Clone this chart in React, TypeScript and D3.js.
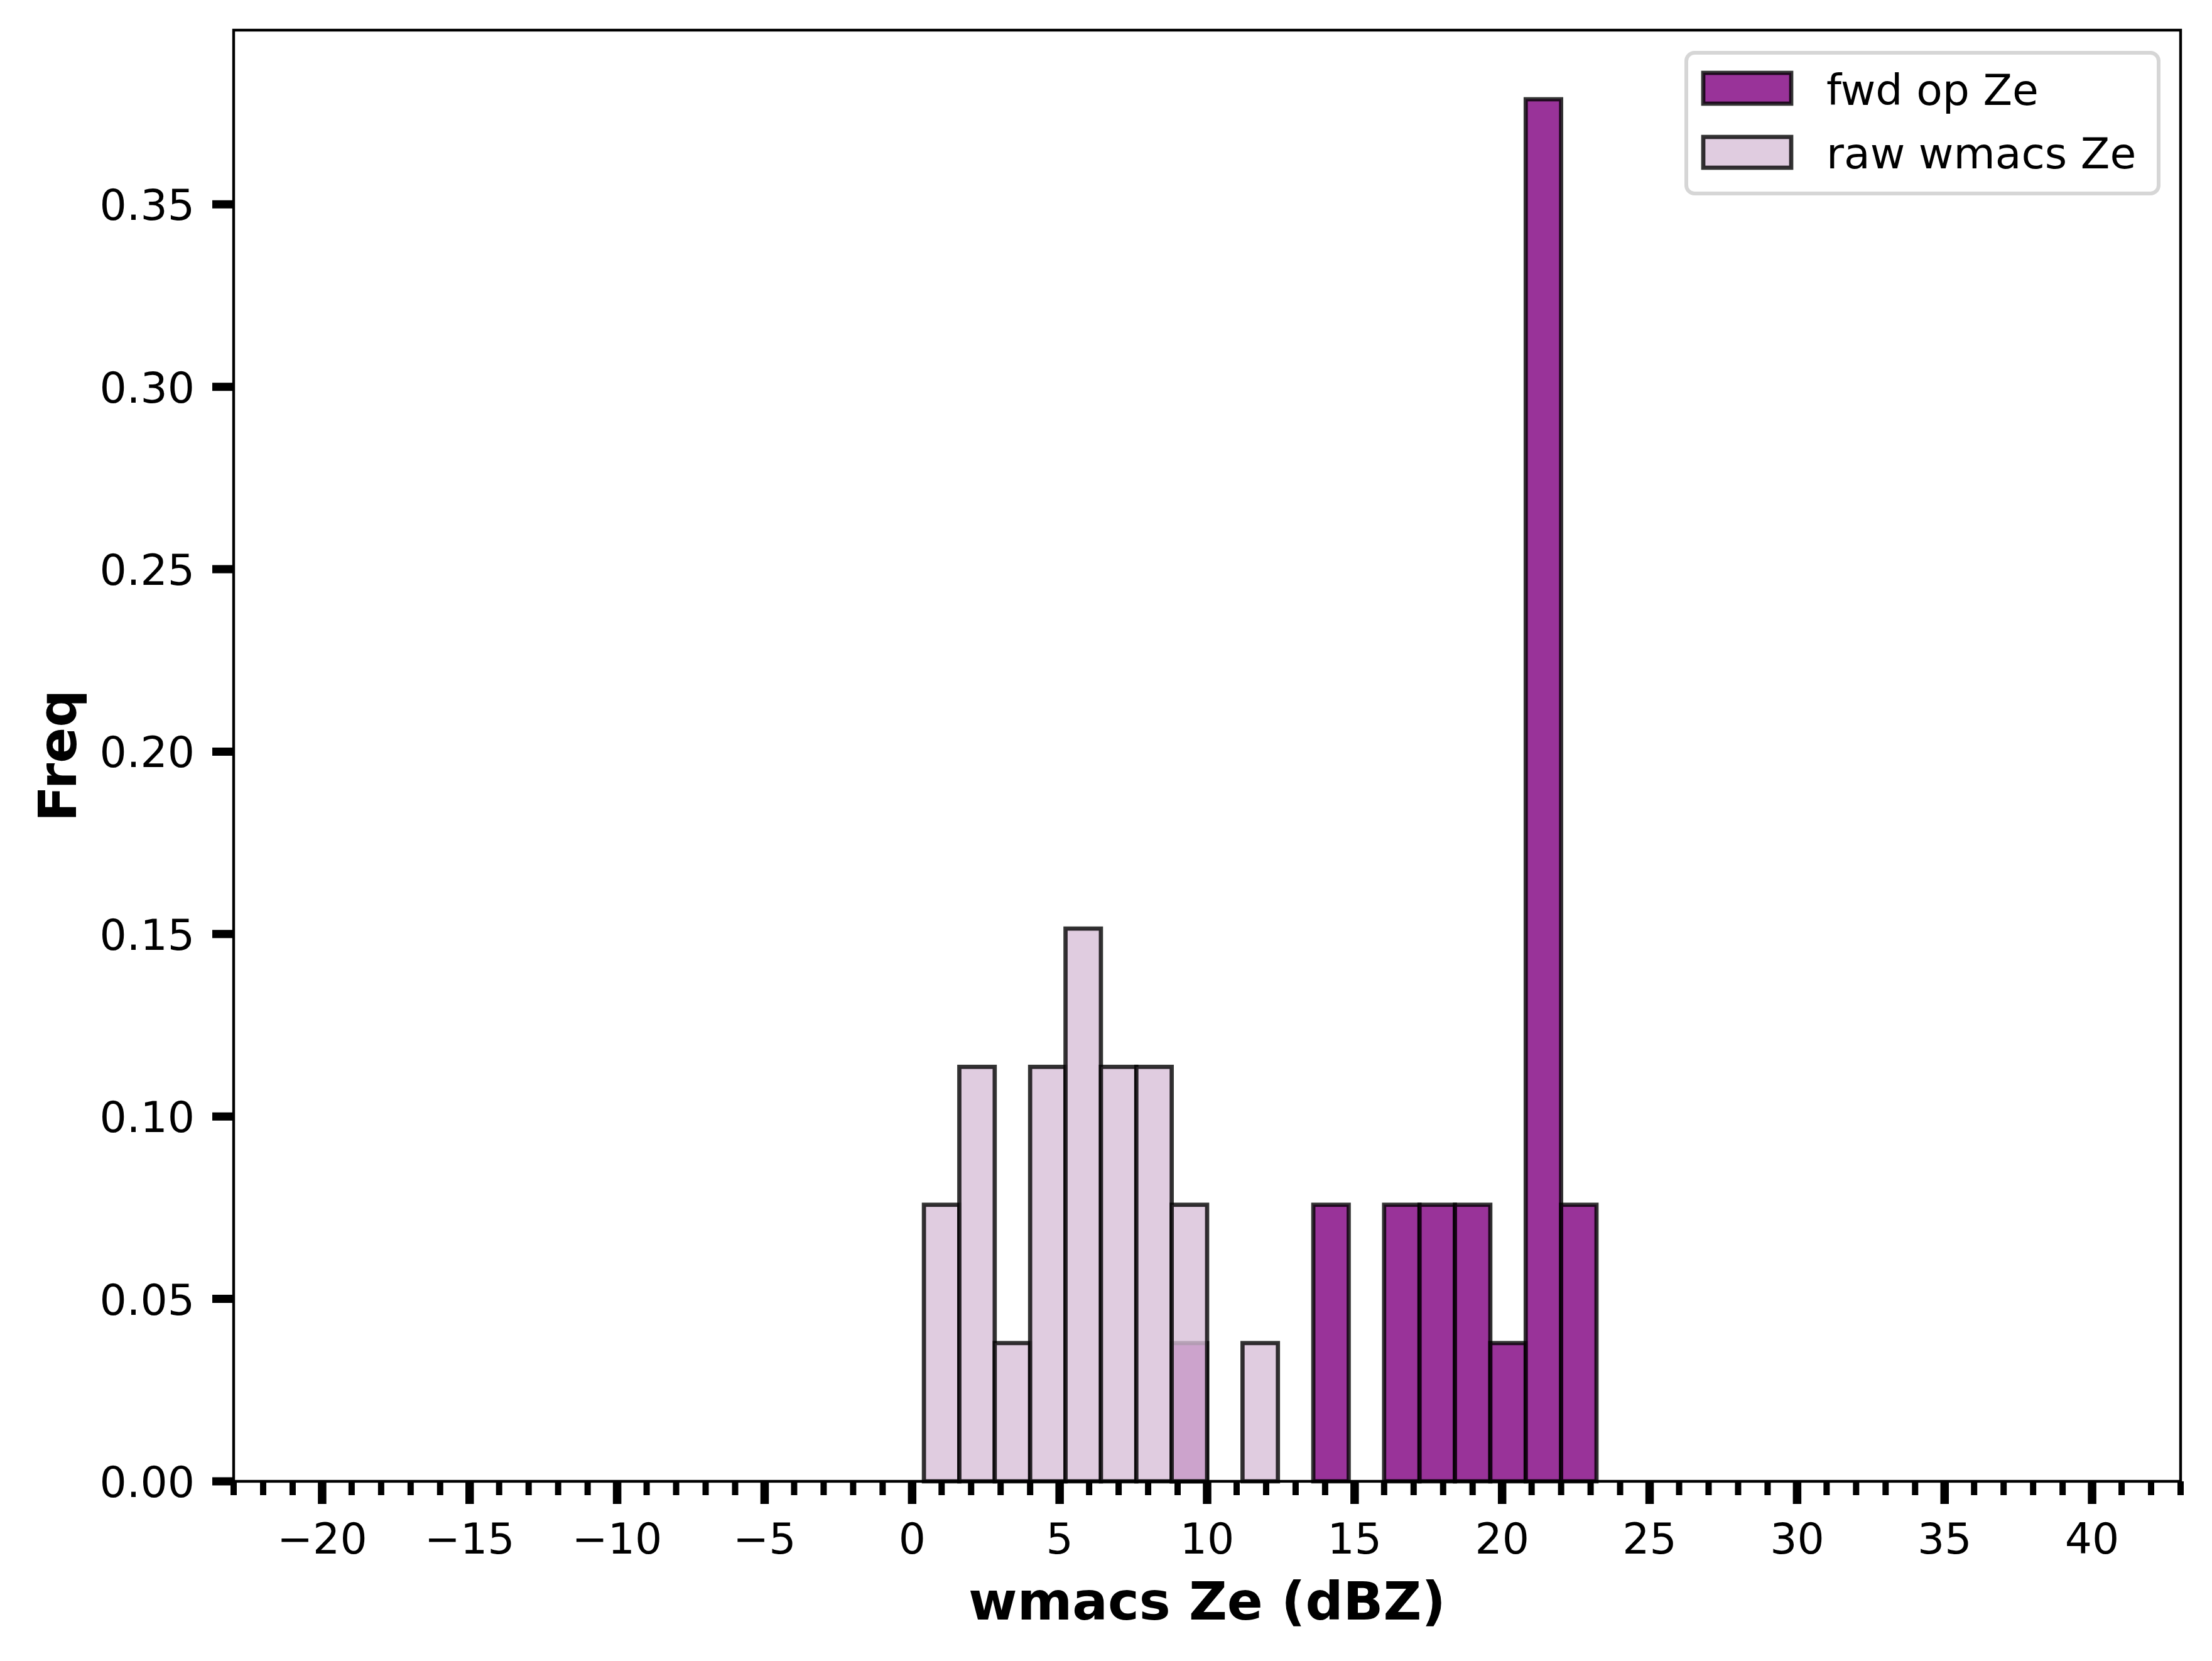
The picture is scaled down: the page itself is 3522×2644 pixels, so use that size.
import React from 'react';
import * as d3 from 'd3';

// histogram bins (dBZ), bin width 1.2
const binEdges = [0.4, 1.6, 2.8, 4.0, 5.2, 6.4, 7.6, 8.8, 10.0, 11.2, 12.4, 13.6, 14.8, 16.0, 17.2, 18.4, 19.6, 20.8, 22.0, 23.2];

// frequency per bin
const fwdFreq = [0, 0, 0, 0, 0, 0, 0, 0.0379, 0, 0, 0, 0.0758, 0, 0.0758, 0.0758, 0.0758, 0.0379, 0.3788, 0.0758];
const rawFreq = [0.0758, 0.1136, 0.0379, 0.1136, 0.1515, 0.1136, 0.1136, 0.0758, 0, 0.0379, 0, 0, 0, 0, 0, 0, 0, 0, 0];

const xMajor = [-20, -15, -10, -5, 0, 5, 10, 15, 20, 25, 30, 35, 40];
const yTicks = [0, 0.05, 0.1, 0.15, 0.2, 0.25, 0.3, 0.35];
const legendLabels = ['fwd op Ze', 'raw wmacs Ze'];

const W = 3522;
const H = 2644;
const m = { left: 372, right: 3472, top: 48, bottom: 2358 };
const FONT = 'DejaVu Sans';
const fs = 68;

const fwdFill = 'rgba(128,0,128,0.8)';
const rawFill = 'rgba(216,191,216,0.8)';
const edge = 'rgba(0,0,0,0.8)';
const edgeW = 6.7;

export default function App() {
  const x = d3.scaleLinear().domain([-23, 43]).range([m.left, m.right]);
  const yMax = (d3.max([...fwdFreq, ...rawFreq]) as number) * 1.05;
  const y = d3.scaleLinear().domain([0, yMax]).range([m.bottom, m.top]);

  const xMinor = d3.range(-23, 44).filter(v => v % 5 !== 0);
  const fmtX = d3.format('d');
  const fmtY = d3.format('.2f');

  const bars = (freq: number[], fill: string, key: string) =>
    freq.map((f, i) =>
      f > 0 ? (
        <rect
          key={key + i}
          x={x(binEdges[i])}
          y={y(f)}
          width={x(binEdges[i + 1]) - x(binEdges[i])}
          height={y(0) - y(f)}
          fill={fill}
          stroke={edge}
          strokeWidth={edgeW}
        />
      ) : null
    );

  const legX = m.right - 787;
  const legY = m.top + 36;
  const legendFills = [fwdFill, rawFill];

  return (
    <div style={{ position: 'absolute', left: 0, top: 0 }}>
      <svg width={W} height={H} style={{ display: 'block', background: '#fff' }} fontFamily={FONT}>
        {bars(fwdFreq, fwdFill, 'f')}
        {bars(rawFreq, rawFill, 'r')}

        {/* spines */}
        <rect x={m.left} y={m.top} width={m.right - m.left} height={m.bottom - m.top}
          fill="none" stroke="#000" strokeWidth={4.4} />

        {/* x ticks */}
        {xMinor.map(v => (
          <line key={'mn' + v} x1={x(v)} x2={x(v)} y1={m.bottom} y2={m.bottom + 22}
            stroke="#000" strokeWidth={10} />
        ))}
        {xMajor.map(v => (
          <g key={'mj' + v}>
            <line x1={x(v)} x2={x(v)} y1={m.bottom} y2={m.bottom + 36} stroke="#000" strokeWidth={13.5} />
            <text x={x(v)} y={2473} textAnchor="middle" fontSize={fs}>{fmtX(v)}</text>
          </g>
        ))}

        {/* y ticks */}
        {yTicks.map(v => (
          <g key={'y' + v}>
            <line x1={m.left - 34} x2={m.left} y1={y(v)} y2={y(v)} stroke="#000" strokeWidth={13} />
            <text x={310} y={y(v) + 25} textAnchor="end" fontSize={fs}>{fmtY(v)}</text>
          </g>
        ))}

        {/* axis labels */}
        <text x={(m.left + m.right) / 2} y={2578} textAnchor="middle" fontSize={84} fontWeight="bold">
          wmacs Ze (dBZ)
        </text>
        <text transform={`translate(121,${(m.top + m.bottom) / 2}) rotate(-90)`} textAnchor="middle"
          fontSize={84} fontWeight="bold">
          Freq
        </text>

        {/* legend */}
        <g>
          <rect x={legX} y={legY} width={752} height={224} rx={13} fill="rgba(255,255,255,0.8)"
            stroke="#d6d6d6" strokeWidth={6} />
          {legendLabels.map((lab, i) => (
            <g key={lab}>
              <rect x={legX + 27} y={legY + 32 + i * 102} width={140} height={49}
                fill={legendFills[i]} stroke={edge} strokeWidth={edgeW} />
              <text x={legX + 223} y={legY + 83 + i * 101} fontSize={fs}>{lab}</text>
            </g>
          ))}
        </g>
      </svg>
    </div>
  );
}
